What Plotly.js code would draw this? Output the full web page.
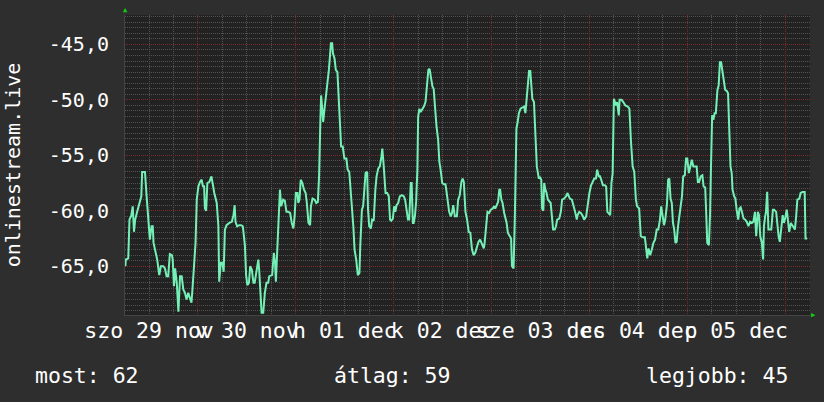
<!DOCTYPE html>
<html><head><meta charset="utf-8">
<script src="https://cdn.plot.ly/plotly-3.0.1.min.js"></script>
<style>html,body{margin:0;padding:0;background:#2e2e2e;}#chart{width:824px;height:402px;}</style>
</head><body><div id="chart"></div>
<script>
// hours since the left edge of the chart (Sat 29 Nov ~06:06)
const hours = [
0.1,0.2,0.8,1.1,1.5,1.9,2.2,2.5,2.9,3.3,3.7,4.0,4.2,4.9,5.3,5.7,6.1,6.5,6.8,7.0,7.4,7.9,8.4,8.8,9.4,9.8,10.2,10.6,11.0,11.5,11.7,12.0,12.3,12.7,13.1,13.5,13.9,14.3,14.7,15.1,15.5,15.9,16.3,16.6,16.9,17.3,17.6,18.0,18.4,18.8,19.1,19.4,19.6,19.9,20.2,20.7,21.2,21.5,21.9,22.5,22.9,23.1,23.5,23.9,24.2,24.5,24.9,25.6,26.2,26.6,
26.9,27.1,27.5,28.0,28.5,28.9,29.4,29.7,30.0,30.4,30.7,31.1,31.5,31.8,32.2,32.4,32.7,32.9,33.2,33.5,33.9,34.3,34.7,35.1,35.4,36.1,36.5,36.8,37.0,37.4,37.7,38.0,38.3,38.8,39.2,39.6,40.0,40.5,40.9,41.3,41.6,41.9,42.3,42.5,42.8,43.1,43.5,43.9,44.3,44.6,45.0,45.4,45.6,46.0,46.5,46.9,47.3,47.6,47.9,48.1,48.4,48.6,49.0,49.3,49.5,50.0,50.2,50.5,50.8,51.0,51.4,51.7,52.1,52.4,52.7,53.0,53.4,53.8,54.3,54.6,
55.0,55.4,55.7,56.0,56.3,56.7,57.1,57.5,57.7,58.1,58.4,58.7,59.0,59.4,59.6,59.9,60.3,60.6,61.0,61.4,61.7,62.1,62.5,62.9,63.1,63.4,63.6,63.9,64.3,64.7,65.0,65.3,65.7,66.0,66.3,66.6,67.0,67.4,67.9,68.4,68.7,69.1,69.4,69.7,70.1,70.3,70.6,70.8,71.1,71.4,71.7,71.9,72.2,72.5,72.9,73.3,73.7,74.1,74.4,74.7,75.0,75.4,75.7,76.0,76.4,76.8,77.1,77.4,77.8,78.2,78.6,78.9,79.2,79.5,79.9,80.2,80.5,80.9,81.4,81.7,82.1,82.5,82.8,
83.1,83.5,83.9,84.3,84.7,85.1,85.5,85.9,86.3,86.7,87.1,87.6,88.0,88.2,88.5,88.9,89.3,89.7,90.2,90.5,90.8,91.2,91.5,91.8,92.0,92.3,92.6,93.0,93.3,93.6,93.9,94.3,94.7,94.9,95.3,95.6,95.8,96.0,96.3,96.6,97.0,97.4,97.9,98.2,98.5,98.8,99.1,99.4,99.6,99.9,100.3,100.6,100.8,101.0,101.5,101.8,102.1,102.3,102.6,102.8,103.1,103.4,103.7,104.1,104.4,104.7,105.0,105.4,105.7,106.0,106.5,106.9,107.2,107.7,108.2,108.5,108.8,109.1,109.6,110.0,110.4,110.8,
111.0,111.4,111.8,112.3,112.6,113.1,113.5,113.9,114.3,114.7,115.1,115.5,115.8,116.2,116.5,116.8,117.2,117.7,118.0,118.3,118.6,119.0,119.3,119.6,119.9,120.2,120.4,120.7,121.1,121.3,121.8,122.2,122.7,123.3,123.7,124.1,124.5,124.9,125.3,125.6,126.1,126.5,127.0,127.5,127.8,128.1,128.4,128.8,129.2,129.6,130.0,130.4,130.8,131.2,131.5,131.9,132.2,132.5,132.9,133.2,133.5,133.8,134.1,134.4,134.7,135.0,135.3,135.6,136.0,136.3,136.6,136.9,137.3,137.6,137.9,138.3,138.6,
139.0,139.4,139.8,140.2,140.5,140.8,141.2,141.6,141.9,142.3,142.5,142.8,143.2,143.5,143.7,144.0,144.3,144.6,144.9,145.3,145.6,145.9,146.2,146.5,146.8,147.2,147.6,147.9,148.2,148.5,148.8,149.0,149.4,149.7,150.0,150.4,150.7,151.0,151.3,151.7,152.1,152.5,152.9,153.3,153.7,154.1,154.5,154.8,155.2,155.5,155.8,156.2,156.5,156.7,157.0,157.2,157.5,157.8,158.2,158.5,158.9,159.2,159.7,160.0,160.3,160.6,161.0,161.3,161.6,161.9,162.3,162.6,162.9,163.3,163.6,163.9,164.3,164.6,164.9,165.4,165.7,166.2,166.7,166.9,167.3
];
const values = [
-65.0,-64.4,-64.3,-60.8,-60.5,-59.6,-61.9,-60.8,-60.2,-59.6,-59.0,-58.7,-56.5,-56.5,-58.7,-61.0,-62.6,-61.4,-61.4,-62.9,-63.5,-64.4,-65.8,-65.0,-65.0,-65.2,-65.9,-65.9,-63.9,-64.0,-64.4,-66.8,-65.2,-66.5,-69.1,-65.9,-65.9,-67.1,-67.4,-68.0,-67.4,-67.9,-68.3,-66.8,-64.7,-62.9,-59.0,-57.8,-57.4,-57.2,-57.8,-57.8,-59.8,-60.0,-57.5,-57.4,-56.9,-57.7,-58.4,-59.3,-61.4,-66.4,-64.7,-64.7,-65.5,-61.7,-61.3,-61.1,-61.0,-60.4,
-59.5,-61.0,-61.4,-61.3,-61.3,-61.4,-63.1,-65.8,-66.7,-66.5,-65.0,-65.3,-66.5,-66.5,-65.6,-65.0,-64.4,-65.3,-67.3,-69.2,-69.2,-67.4,-66.5,-66.5,-65.9,-65.8,-63.8,-64.7,-66.4,-62.9,-60.5,-58.1,-59.6,-59.0,-59.1,-60.1,-60.1,-60.2,-61.1,-61.6,-60.5,-58.4,-58.4,-59.3,-59.0,-57.2,-57.5,-58.1,-58.4,-59.3,-61.1,-61.3,-59.6,-58.9,-59.0,-59.3,-59.2,-56.9,-52.1,-49.6,-50.9,-52.0,-50.6,-49.7,-49.0,-47.3,-46.4,-44.9,-44.9,-45.8,-46.3,-47.3,-47.5,-49.7,-51.8,-54.2,-54.2,-55.3,-55.3,-56.3,
-56.5,-58.4,-59.5,-61.4,-63.5,-64.4,-65.8,-65.6,-63.2,-59.9,-59.6,-57.8,-56.6,-56.5,-59.9,-61.4,-61.6,-60.8,-60.9,-58.1,-56.9,-56.2,-56.0,-55.1,-54.4,-55.7,-57.4,-58.4,-58.4,-58.7,-60.8,-60.9,-60.7,-59.6,-60.1,-59.5,-59.3,-58.7,-58.6,-58.7,-59.0,-60.2,-60.8,-60.8,-57.5,-57.5,-61.1,-61.1,-60.5,-59.2,-56.3,-51.5,-50.8,-51.1,-50.9,-50.6,-50.2,-48.5,-47.3,-47.2,-47.8,-48.8,-49.0,-50.6,-52.4,-53.6,-55.6,-56.3,-57.5,-57.6,-57.6,-58.4,-59.6,-60.1,-60.5,-60.2,-59.5,-60.5,-60.5,-59.0,-58.6,-57.4,-57.1,
-57.4,-60.1,-60.8,-61.9,-62.0,-63.5,-64.0,-63.8,-63.2,-62.8,-62.6,-63.0,-63.4,-62.9,-61.7,-60.1,-60.2,-59.9,-59.8,-59.6,-59.8,-59.5,-59.2,-58.1,-58.1,-59.0,-59.3,-60.2,-60.7,-61.1,-62.0,-62.3,-62.5,-65.0,-65.2,-60.8,-55.4,-52.6,-52.0,-51.2,-50.8,-50.7,-50.6,-51.2,-49.7,-48.1,-47.4,-47.4,-48.5,-49.9,-50.2,-52.4,-54.2,-56.0,-57.1,-57.0,-57.2,-59.8,-60.0,-57.5,-58.1,-58.4,-59.0,-59.2,-59.3,-60.5,-61.7,-61.7,-61.4,-60.8,-60.7,-60.1,-59.0,-58.9,-58.7,-58.4,-58.7,-58.9,-59.0,-59.5,-60.1,-60.8,
-60.4,-60.1,-60.2,-60.5,-60.8,-60.5,-59.2,-58.4,-57.7,-57.4,-57.1,-57.1,-56.3,-56.9,-56.9,-57.2,-57.7,-57.7,-57.8,-60.1,-60.2,-60.4,-57.5,-56.6,-49.9,-50.2,-50.5,-50.2,-51.4,-50.0,-50.0,-50.2,-50.5,-50.6,-50.8,-53.8,-56.0,-56.5,-59.0,-59.6,-59.8,-62.3,-62.4,-62.4,-63.2,-64.3,-63.4,-64.0,-63.5,-62.9,-62.6,-61.7,-61.7,-60.8,-59.6,-60.4,-61.3,-60.8,-59.5,-57.2,-57.1,-58.9,-59.3,-61.1,-61.7,-62.9,-62.8,-61.5,-60.5,-59.5,-58.7,-56.9,-56.8,-55.3,-55.3,-56.6,-56.0,
-55.4,-56.0,-56.0,-56.0,-57.4,-57.4,-56.9,-56.8,-57.8,-57.9,-59.8,-62.9,-63.1,-60.2,-56.3,-51.4,-51.8,-51.2,-51.2,-49.1,-48.7,-46.6,-46.6,-47.2,-48.1,-49.1,-49.2,-49.4,-52.7,-56.0,-56.6,-58.1,-58.7,-58.9,-59.9,-60.8,-59.8,-59.7,-60.1,-60.7,-60.8,-61.0,-61.4,-61.0,-61.1,-61.0,-60.1,-62.3,-60.1,-60.4,-62.3,-62.9,-64.4,-61.4,-60.5,-60.1,-58.3,-61.7,-61.7,-61.7,-59.9,-59.9,-60.1,-61.4,-62.3,-62.8,-61.1,-60.4,-61.1,-60.7,-59.9,-61.1,-61.9,-61.1,-61.3,-61.4,-61.7,-60.5,-59.0,-58.9,-58.4,-58.3,-58.3,-62.5,-62.5
];
const dayLabels = ["szo 29 nov","v 30 nov","h 01 dec","k 02 dec","sze 03 dec","cs 04 dec","p 05 dec"];
const dayLabelHours = [5.9, 29.9, 53.9, 77.9, 101.9, 125.9, 149.9];
const firstMidnight = 17.9;
const yTickValues = [-65, -60, -55, -50, -45];
const yTickText = yTickValues.map(v => v.toFixed(1).replace('.', ','));
const seriesName = "onlinestream.live";
const summaryLabels = ["most: 62", "átlag: 59", "legjobb: 45"];

const FONT = "DejaVu Sans Mono, monospace";
const BIG = 21.5;
const xRange = [0, 168];
const yRange = [-69.4, -42.35];
const dotted = "1px,1px";

const traces = [
  {x: hours, y: values, xaxis: 'x2', yaxis: 'y', mode: 'lines', line: {color: 'rgba(0,0,0,0)', width: 1}, hoverinfo: 'skip', showlegend: false},
  {x: hours, y: values, xaxis: 'x', yaxis: 'y', mode: 'lines', name: seriesName, line: {color: '#74f0b6', width: 2}, showlegend: false}
];

const layout = {
  width: 824, height: 402,
  paper_bgcolor: '#2e2e2e', plot_bgcolor: '#222222',
  margin: {l: 125, r: 14, t: 15, b: 87},
  font: {family: FONT, color: '#ffffff', size: 20},
  hovermode: false,
  showlegend: false,
  xaxis: {
    range: xRange, tickmode: 'linear', tick0: firstMidnight, dtick: 24,
    showgrid: true, gridcolor: '#7a2a2a', griddash: dotted, gridwidth: 1,
    showticklabels: false, ticks: '', zeroline: false,
    showline: true, linecolor: '#444444', linewidth: 1,
    minor: {tickmode: 'linear', tick0: firstMidnight, dtick: 6, showgrid: true, gridcolor: '#525252', griddash: dotted, gridwidth: 1}
  },
  xaxis2: {
    overlaying: 'x', anchor: 'y', side: 'bottom', range: xRange,
    tickmode: 'array', tickvals: dayLabelHours, ticktext: dayLabels,
    showgrid: false, zeroline: false, showline: false, tickangle: 0,
    ticks: '',
    tickfont: {family: FONT, size: BIG, color: '#ffffff'}
  },
  yaxis: {
    range: yRange, tickmode: 'array', tickvals: yTickValues, ticktext: yTickText,
    showgrid: true, gridcolor: '#7a2a2a', griddash: dotted, gridwidth: 1,
    zeroline: false, ticks: 'outside', ticklen: 11, tickcolor: 'rgba(0,0,0,0)',
    showline: true, linecolor: '#444444', linewidth: 1,
    tickfont: {family: FONT, size: 20, color: '#ffffff'},
    minor: {tickmode: 'linear', tick0: 0, dtick: 0.5, showgrid: true, gridcolor: '#525252', griddash: dotted, gridwidth: 1},
    title: {text: seriesName, font: {family: FONT, size: 20, color: '#ffffff'}, standoff: 22}
  },
  annotations: [
    {xref: 'paper', yref: 'paper', x: -0.134, y: -0.2, xanchor: 'left', yanchor: 'middle', text: summaryLabels[0], showarrow: false, font: {family: FONT, size: BIG, color: '#ffffff'}},
    {xref: 'paper', yref: 'paper', x: 0.39, y: -0.2, xanchor: 'center', yanchor: 'middle', text: summaryLabels[1], showarrow: false, font: {family: FONT, size: BIG, color: '#ffffff'}},
    {xref: 'paper', yref: 'paper', x: 0.971, y: -0.2, xanchor: 'right', yanchor: 'middle', text: summaryLabels[2], showarrow: false, font: {family: FONT, size: BIG, color: '#ffffff'}},
    {xref: 'paper', yref: 'paper', x: 0, y: 1.017, xanchor: 'center', yanchor: 'middle', text: '▲', showarrow: false, font: {family: FONT, size: 7, color: '#11cc11'}},
    {xref: 'paper', yref: 'paper', x: 1.0045, y: 0, xanchor: 'center', yanchor: 'middle', text: '▶', showarrow: false, font: {family: FONT, size: 7, color: '#11cc11'}}
  ]
};

Plotly.newPlot('chart', traces, layout, {displayModeBar: false, staticPlot: true});
</script>
</body></html>
